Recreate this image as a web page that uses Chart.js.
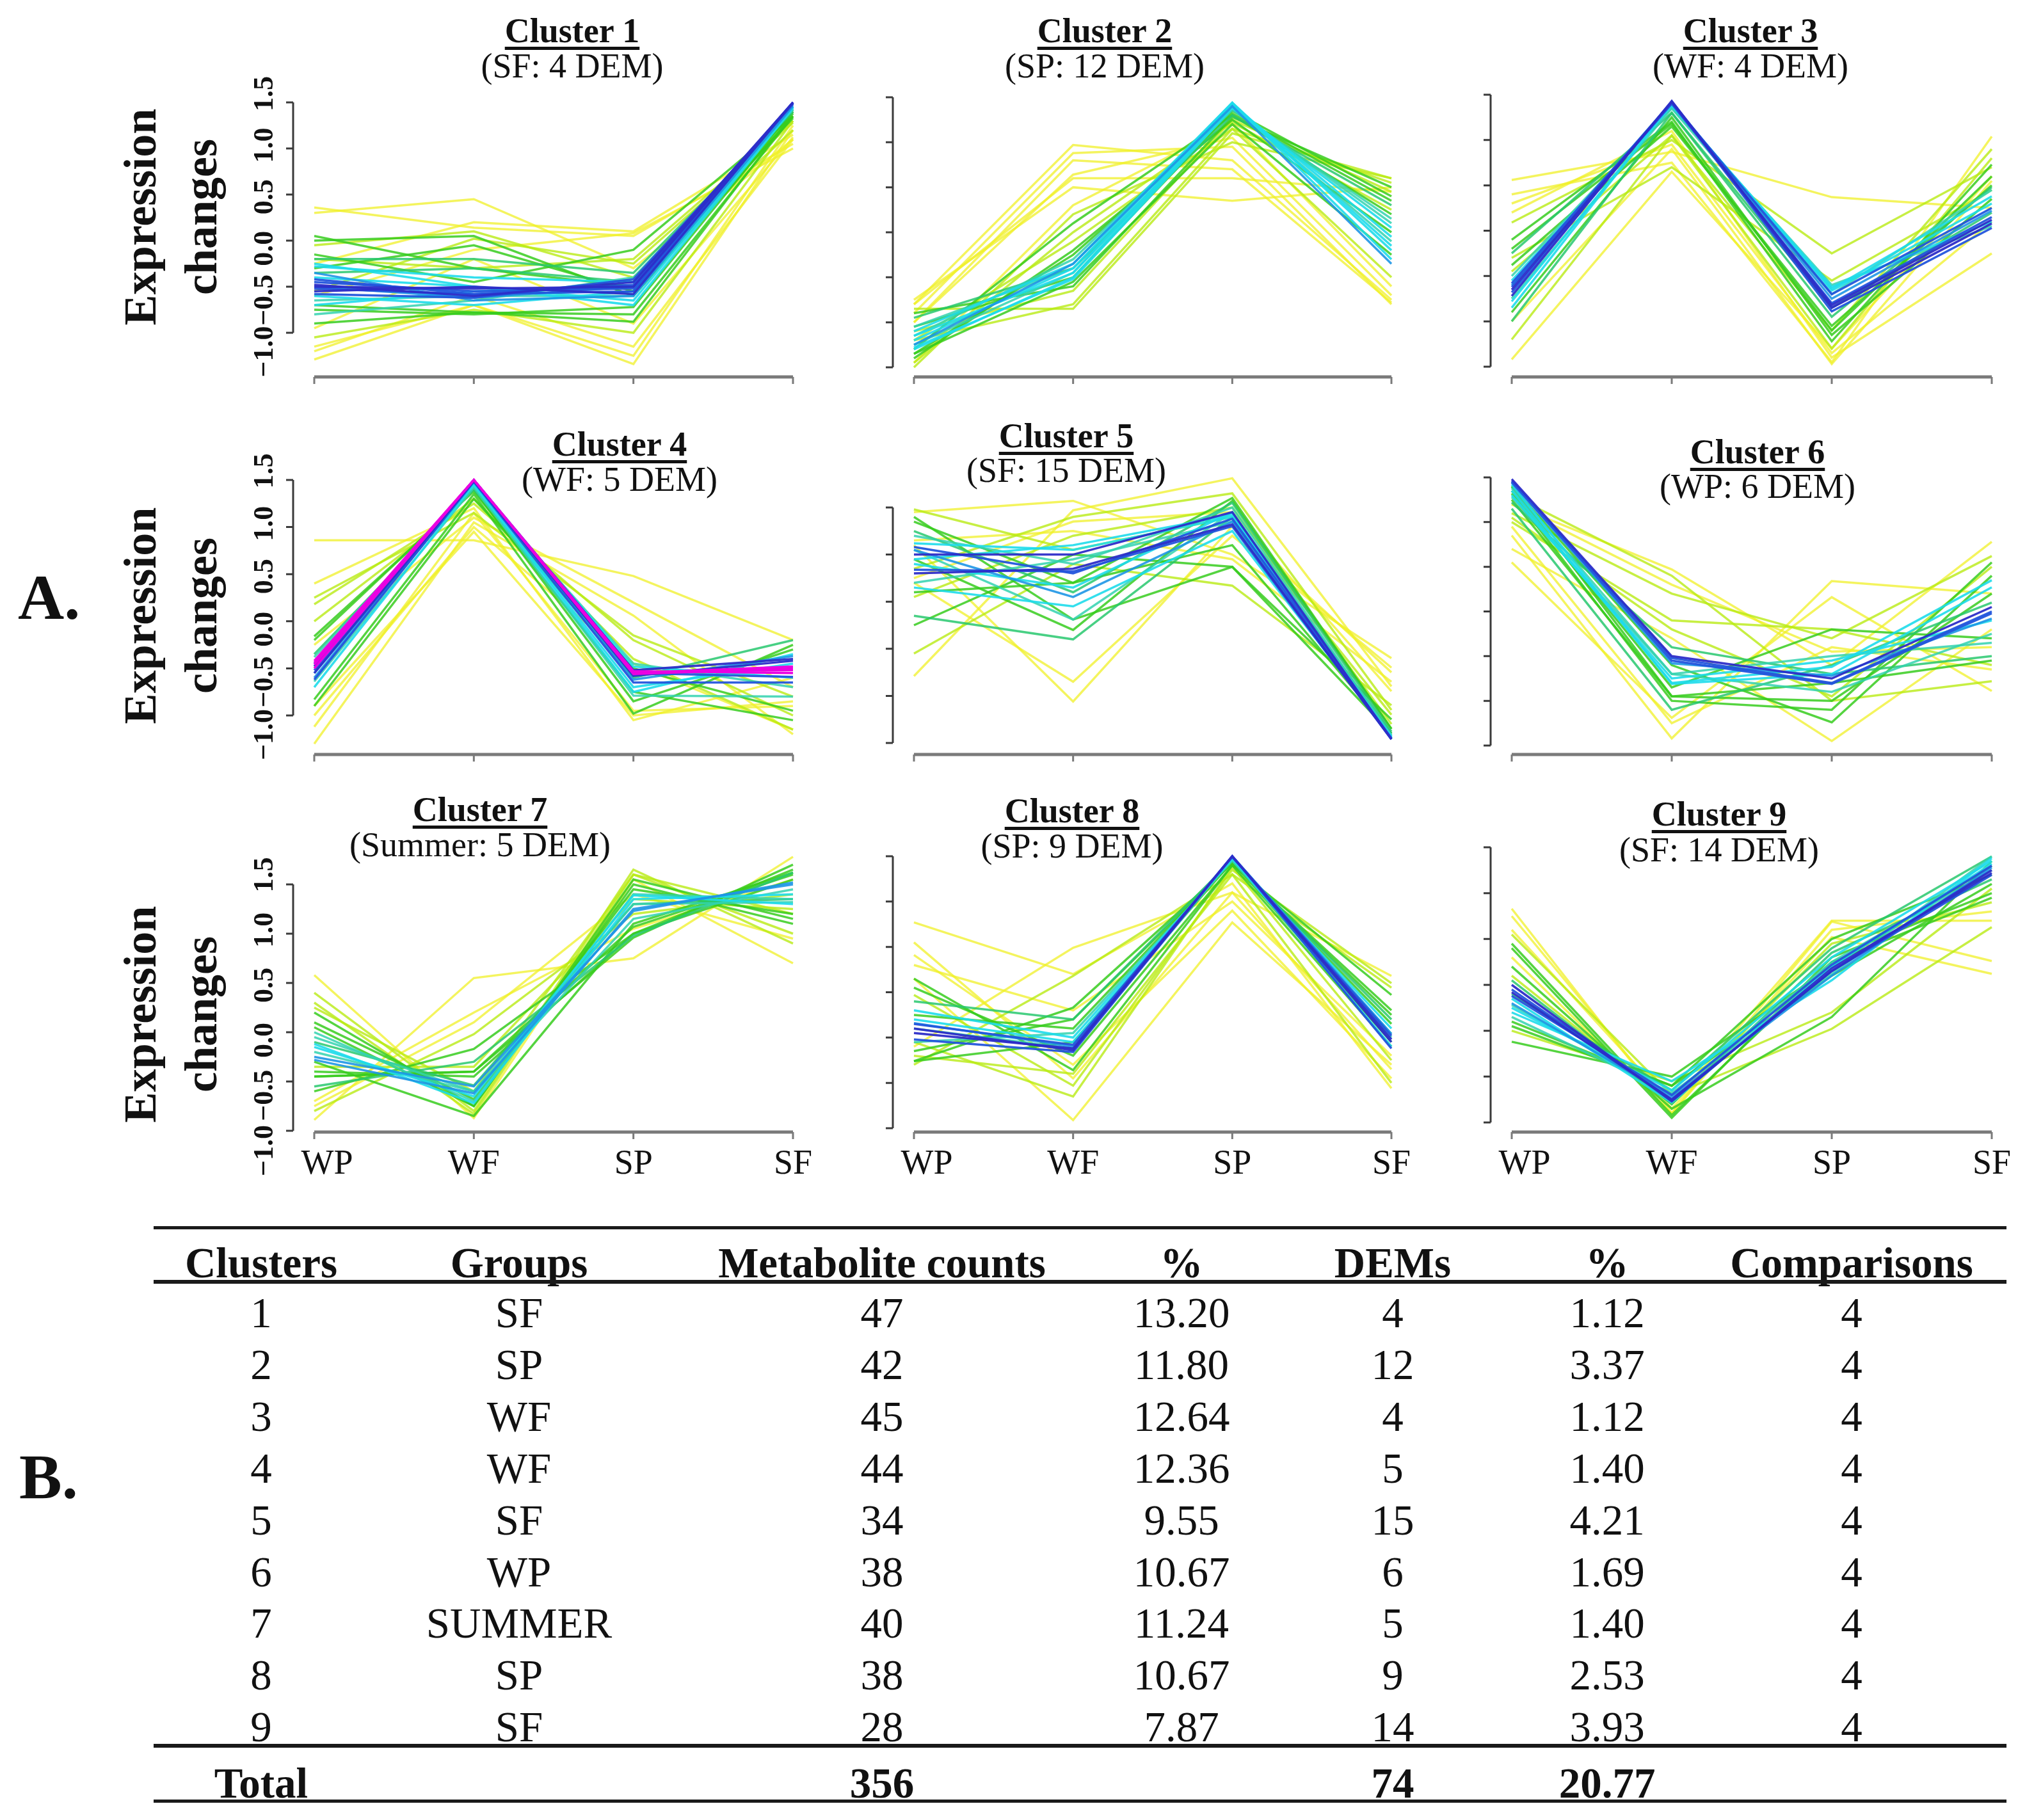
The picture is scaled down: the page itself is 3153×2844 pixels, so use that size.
<!DOCTYPE html>
<html lang="en">
<head>
    <meta charset="UTF-8">
    <title>Cluster profiles</title>
    <script src="https://cdn.jsdelivr.net/npm/chart.js"></script>
    <style>
        body { margin: 0; background: #fff; }
        #fig { position: relative; width: 3153px; height: 2844px; overflow: hidden; background: #fff;
               font-family: 'Liberation Serif', 'Times New Roman', serif; color: #111; }
        #fig canvas { position: absolute; }
        .ttl { position: absolute; width: 700px; text-align: center; font-size: 54px; line-height: 56px; white-space: nowrap; }
        .ttl.main { font-weight: bold; text-decoration: underline; text-decoration-thickness: 5px; text-underline-offset: 7px; }
        .ytitle { position: absolute; width: 600px; height: 190px; font-weight: bold; font-size: 72px;
                  line-height: 95px; text-align: center; transform: rotate(-90deg); }
        .panel-tag { position: absolute; font-weight: bold; font-size: 100px; line-height: 100px; }
        .cell { position: absolute; text-align: center; font-size: 67px; line-height: 80px; white-space: nowrap; }
        .cell.b { font-weight: bold; }
        .rule { position: absolute; left: 240px; width: 2895px; background: #1a1a1a; }
    </style>
</head>
<body>
<div id="fig"></div>
<script>
    // time points on the x axis
    const stages = ['WP', 'WF', 'SP', 'SF'];

    // panel titles
    const clusterGroups = ['SF', 'SP', 'WF', 'WF', 'SF', 'WP', 'Summer', 'SP', 'SF'];
    const clusterDEM = [4, 12, 4, 5, 15, 6, 5, 9, 14];

    // y tick range of each panel
    const tickLow = [-1.0, -1.5, -1.5, -1.0, -1.5, -1.5, -1.0, -1.5, -1.5];
    const tickHigh = [1.5, 1.5, 1.5, 1.5, 1.0, 1.5, 1.5, 1.5, 1.5];

    // profiles: expression changes at WP, WF, SP, SF; membership drives the colour
    const cluster1Profiles = [
        [0.36, 0.14, 0.05, 1.05], [0.30, 0.45, -0.30, 1.10], [-0.25, 0.20, 0.10, 1.15],
        [-1.29, -0.70, -1.34, 1.20], [-1.15, -0.70, -1.25, 1.25], [-0.05, 0.10, -0.40, 1.20],
        [-1.05, -0.75, -1.00, 1.30], [0.00, 0.05, -0.60, 1.35], [-0.20, -0.30, -0.20, 1.30],
        [-0.90, -0.78, -0.80, 1.35], [-0.30, -0.05, -0.55, 1.40], [-0.75, -0.80, -0.72, 1.40],
        [-0.15, -0.45, -0.10, 1.35], [-0.35, -0.30, -0.45, 1.42], [-0.65, -0.60, -0.60, 1.43],
        [-0.40, -0.50, -0.65, 1.45], [-0.60, -0.70, -0.55, 1.45], [-0.28, -0.40, -0.45, 1.46],
        [-0.50, -0.62, -0.50, 1.48], [-0.45, -0.55, -0.52, 1.49], [-0.52, -0.58, -0.48, 1.50],
        [-0.55, -0.50, -0.58, 1.50], [-0.48, -0.60, -0.45, 1.50], [-0.60, -0.10, 0.08, 1.00],
        [-0.95, -0.20, -0.90, 1.12], [-0.50, -0.52, -0.50, 1.50], [-0.42, -0.58, -0.55, 1.49],
        [-0.58, -0.62, -0.42, 1.48], [-0.35, -0.65, -0.60, 1.46], [-0.70, -0.55, -0.50, 1.45],
        [-0.25, -0.50, -0.70, 1.44], [-0.80, -0.65, -0.40, 1.42], [-0.20, -0.20, -0.35, 1.40],
        [-0.70, -0.78, -0.88, 1.38], [0.05, -0.30, -0.50, 1.33], [-0.55, 0.02, -0.25, 1.28],
        [-1.20, -0.60, -1.15, 1.10]
    ];
    const cluster1Membership = [0.35, 0.35, 0.35, 0.35, 0.35, 0.45, 0.45, 0.55, 0.45, 0.55, 0.55, 0.55, 0.55,
        0.6, 0.65, 0.7, 0.7, 0.7, 0.75, 0.8, 0.8, 0.85, 0.85, 0.35, 0.35,
        0.85, 0.8, 0.8, 0.75, 0.7, 0.7, 0.65, 0.6, 0.55, 0.55, 0.45, 0.35];

    const cluster2Profiles = [
        [-0.80, 0.97, 0.80, -0.75], [-0.90, 0.88, 0.95, -0.80], [-1.00, 0.64, 1.05, -0.70],
        [-0.75, 0.50, 0.35, 0.50], [-1.45, 0.30, 1.20, -0.60], [-0.85, -0.85, 1.10, 0.60],
        [-1.10, -0.65, 1.25, 0.45], [-1.20, -0.10, 1.15, 0.55], [-1.30, 0.10, 1.30, 0.20],
        [-1.05, -0.50, 1.35, 0.40], [-1.40, -0.20, 1.25, 0.00], [-0.95, -0.40, 1.30, 0.30],
        [-1.15, -0.30, 1.40, -0.10], [-1.25, -0.45, 1.38, 0.10], [-1.10, -0.35, 1.44, -0.20],
        [-1.30, -0.50, 1.42, -0.05], [-1.20, -0.40, 1.44, -0.30], [-1.50, 0.20, 1.00, 0.60],
        [-0.80, 0.60, 0.60, 0.45], [-1.35, -0.55, 1.20, -0.25], [-1.15, -0.45, 1.42, -0.15],
        [-1.25, -0.35, 1.40, -0.35], [-1.05, -0.40, 1.36, 0.15], [-1.35, -0.25, 1.32, 0.35],
        [-0.90, -0.60, 1.28, 0.50], [-1.45, 0.00, 1.22, 0.25], [-1.00, 0.80, 0.70, -0.78],
        [-1.20, -0.80, 1.15, -0.50], [-1.28, -0.52, 1.38, 0.05]
    ];
    const cluster2Membership = [0.35, 0.35, 0.35, 0.35, 0.35, 0.45, 0.45, 0.45, 0.55, 0.55, 0.55, 0.6,
        0.65, 0.65, 0.7, 0.7, 0.7, 0.45, 0.35, 0.55,
        0.7, 0.75, 0.65, 0.55, 0.55, 0.45, 0.35, 0.45, 0.7];

    const cluster3Profiles = [
        [0.56, 0.87, 0.37, 0.25], [0.40, 0.75, -1.45, 1.04], [0.20, 1.10, -1.40, -0.25],
        [-1.42, 0.65, -1.30, 0.60], [0.09, 1.00, -0.25, 0.70], [-1.20, 1.05, -1.10, 0.90],
        [-0.10, 1.20, -1.22, 0.73], [-0.38, 1.15, -1.05, 0.50], [-0.90, 1.25, -1.15, 0.35],
        [-0.25, 1.30, -0.85, 0.20], [-0.75, 1.35, -0.70, 0.45], [-0.55, 1.38, -0.62, 0.10],
        [-0.85, 1.40, -0.66, 0.30], [-0.60, 1.42, -0.75, 0.22], [-0.68, 1.42, -0.89, 0.03],
        [-0.62, 1.40, -0.80, 0.15], [-0.72, 1.43, -0.85, 0.08], [-1.00, 0.90, -1.47, 0.55],
        [-0.30, 0.70, -0.55, 0.45], [-0.65, 1.42, -0.82, 0.12], [-0.58, 1.41, -0.70, 0.25],
        [-0.78, 1.39, -0.64, 0.38], [-0.50, 1.36, -0.60, 0.05], [-1.00, 1.30, -0.95, 0.48],
        [-0.20, 1.18, -1.10, 0.60], [-0.45, 1.05, -1.30, 0.80], [0.30, 0.95, -1.35, 0.10]
    ];
    const cluster3Membership = [0.35, 0.35, 0.35, 0.35, 0.45, 0.45, 0.55, 0.55, 0.55, 0.6, 0.65, 0.7,
        0.7, 0.75, 0.8, 0.8, 0.85, 0.35, 0.45,
        0.85, 0.8, 0.7, 0.65, 0.6, 0.55, 0.45, 0.35];

    const cluster4Profiles = [
        [0.86, 0.86, 0.48, -0.20], [-1.30, 1.05, 0.06, -1.20], [-1.12, 1.15, -0.95, -0.90],
        [0.40, 1.20, -1.05, -0.60], [0.18, 1.25, -0.20, -1.00], [0.00, 1.30, -0.40, -1.15],
        [-0.83, 1.35, -0.98, -0.25], [-0.16, 1.38, -0.75, -1.05], [-0.35, 1.40, -0.60, -0.20],
        [-0.64, 1.42, -0.79, -0.80], [-0.55, 1.45, -0.70, -0.45], [-0.45, 1.46, -0.48, -0.60],
        [-0.60, 1.48, -0.62, -0.37], [-0.52, 1.50, -0.55, -0.59], [-0.48, 1.50, -0.52, -0.40],
        [-0.42, 1.50, -0.54, -0.52], [-0.46, 1.50, -0.56, -0.50], [-0.50, 1.50, -0.53, -0.55],
        [-0.25, 1.10, 0.20, -0.70], [-0.90, 0.95, -1.00, -0.85], [-0.44, 1.50, -0.55, -0.48],
        [-0.55, 1.49, -0.58, -0.42], [-0.62, 1.48, -0.65, -0.65], [-0.70, 1.45, -0.75, -0.35],
        [-0.38, 1.44, -0.45, -0.70], [-0.20, 1.40, -0.85, -0.30], [-0.90, 1.30, -0.50, -0.95],
        [0.25, 1.15, -0.15, -0.80], [-1.00, 1.00, -0.45, -1.15]
    ];
    const cluster4Membership = [0.35, 0.35, 0.35, 0.35, 0.45, 0.45, 0.55, 0.55, 0.6, 0.65, 0.7, 0.7,
        0.75, 0.8, 0.85, 0.95, 0.95, 0.95, 0.35, 0.35,
        0.95, 0.85, 0.8, 0.7, 0.65, 0.55, 0.55, 0.45, 0.35];

    const cluster5Profiles = [
        [0.95, 1.07, 0.50, -0.60], [-0.79, 0.97, 1.31, -0.90], [0.60, -1.06, 0.80, -0.75],
        [0.20, -0.85, 0.70, -0.70], [-0.55, 0.40, 0.17, -1.10], [0.98, 0.55, 0.90, -1.20],
        [0.05, 0.70, 1.00, -1.30], [0.90, -0.19, 0.37, -1.25], [0.45, -0.30, 1.07, -1.35],
        [-0.25, 0.50, 0.37, -1.40], [0.75, 0.10, 1.05, -1.38], [0.55, -0.19, 0.95, -1.42],
        [0.20, 0.45, 0.85, -1.45], [0.62, 0.55, 0.90, -1.44], [0.40, 0.15, 0.95, -1.46],
        [0.34, 0.32, 0.80, -1.46], [0.55, 0.05, 0.85, -1.45], [0.30, 0.35, 0.82, -1.46],
        [0.10, 0.20, 0.60, -1.40], [0.25, 0.85, 0.95, -0.95], [0.50, 0.50, 0.95, -1.46],
        [0.58, 0.30, 0.88, -1.45], [0.45, 0.60, 0.92, -1.44], [0.70, 0.40, 1.00, -1.42],
        [0.15, -0.05, 0.75, -1.43], [0.85, 0.20, 1.10, -1.35], [-0.15, -0.40, 0.90, -1.40],
        [0.35, 0.90, 1.15, -1.15], [0.65, 0.75, 0.45, -0.85]
    ];
    const cluster5Membership = [0.35, 0.35, 0.35, 0.35, 0.45, 0.45, 0.45, 0.55, 0.55, 0.55, 0.6, 0.65,
        0.65, 0.7, 0.7, 0.8, 0.75, 0.85, 0.55, 0.35,
        0.85, 0.8, 0.7, 0.65, 0.7, 0.55, 0.6, 0.45, 0.35];

    const cluster6Profiles = [
        [1.20, 0.47, -0.60, 0.78], [0.85, -1.42, 0.34, 0.20], [0.55, -1.19, 0.16, -0.89],
        [0.70, -0.30, -1.45, -0.20], [1.30, 0.40, -1.00, -0.78], [1.10, 0.20, -0.30, 0.62],
        [1.25, -0.95, -0.80, -0.55], [1.40, -0.60, -1.24, 0.40], [1.35, -0.85, -0.20, -0.30],
        [1.15, -1.10, -0.60, 0.10], [1.38, -0.70, -0.90, -0.25], [1.42, -0.81, -0.70, 0.27],
        [1.30, -0.75, -0.55, -0.10], [1.45, -0.55, -0.81, -0.02], [1.48, -0.50, -0.75, 0.05],
        [1.00, -0.10, -0.20, -0.60], [1.20, 0.30, -0.45, -0.40], [1.32, -1.00, -1.10, 0.55],
        [1.46, -0.52, -0.80, 0.00], [1.44, -0.58, -0.72, -0.08], [1.35, -0.80, -0.62, 0.35],
        [1.28, -0.70, -0.50, -0.35], [1.40, -0.95, -1.00, 0.20], [1.22, -0.40, -0.70, -0.50],
        [1.05, -0.20, -0.95, 0.50], [0.95, -1.25, -0.40, -0.65]
    ];
    const cluster6Membership = [0.35, 0.35, 0.35, 0.35, 0.45, 0.45, 0.55, 0.55, 0.55, 0.6, 0.65, 0.7,
        0.7, 0.8, 0.85, 0.45, 0.35, 0.55,
        0.8, 0.75, 0.7, 0.65, 0.55, 0.6, 0.45, 0.35];

    const cluster7Profiles = [
        [0.58, -0.87, 1.55, 0.70], [-0.89, 0.55, 0.75, 1.78], [0.40, -0.80, 1.65, 0.90],
        [-0.70, 0.20, 1.05, 1.55], [0.30, -0.83, 1.60, 1.00], [-0.80, -0.02, 1.20, 1.40],
        [0.20, -0.75, 1.50, 1.10], [-0.60, -0.17, 1.00, 1.65], [0.10, -0.68, 1.45, 1.20],
        [-0.45, -0.40, 0.96, 1.70], [-0.45, -0.40, 1.07, 1.60], [-0.10, -0.54, 1.30, 1.35],
        [-0.20, -0.60, 1.15, 1.45], [-0.15, -0.65, 1.39, 1.30], [-0.25, -0.55, 1.23, 1.52],
        [0.00, -0.70, 1.40, 1.35], [-0.30, -0.85, 1.10, 1.62], [-0.35, -0.35, 1.35, 1.25],
        [-0.28, -0.62, 1.25, 1.50], [-0.12, -0.72, 1.35, 1.40], [-0.05, -0.60, 1.30, 1.32],
        [-0.40, -0.45, 1.00, 1.55], [0.05, -0.75, 1.55, 1.15], [-0.55, -0.30, 0.98, 1.62],
        [0.25, -0.60, 1.60, 1.20], [-0.75, 0.10, 1.40, 0.95]
    ];
    const cluster7Membership = [0.35, 0.35, 0.45, 0.35, 0.45, 0.45, 0.55, 0.55, 0.55, 0.55, 0.55, 0.6,
        0.65, 0.7, 0.75, 0.65, 0.55, 0.45,
        0.75, 0.7, 0.65, 0.55, 0.55, 0.6, 0.45, 0.35];

    const cluster8Profiles = [
        [0.77, 0.20, 1.20, -1.06], [0.41, -0.80, 0.90, -0.95], [-0.60, 0.49, 1.10, 0.18],
        [0.15, -1.41, 0.77, -0.80], [-0.80, 0.18, 1.30, -1.00], [-0.03, -1.03, 1.35, 0.10],
        [0.15, -0.86, 1.40, -0.03], [-0.76, -0.17, 1.42, -0.20], [-0.25, -0.40, 1.45, -0.35],
        [-0.76, -0.55, 1.44, -0.55], [-0.10, -0.30, 1.46, -0.30], [-0.40, -0.62, 1.47, -0.46],
        [-0.30, -0.55, 1.48, -0.60], [-0.34, -0.60, 1.50, -0.46], [-0.52, -0.66, 1.50, -0.62],
        [-0.45, -0.62, 1.50, -0.52], [0.30, -0.20, 1.00, -0.70], [-0.55, -1.15, 1.38, -0.75],
        [-0.40, -0.64, 1.50, -0.55], [-0.35, -0.58, 1.49, -0.48], [-0.20, -0.50, 1.47, -0.40],
        [-0.55, -0.45, 1.45, -0.50], [-0.65, -0.30, 1.43, -0.25], [0.05, -0.70, 1.40, -0.60],
        [-0.70, -0.90, 1.30, 0.05], [0.55, -0.95, 1.10, -0.85]
    ];
    const cluster8Membership = [0.35, 0.35, 0.35, 0.35, 0.45, 0.45, 0.55, 0.55, 0.55, 0.55, 0.6, 0.65,
        0.7, 0.75, 0.8, 0.85, 0.35, 0.45,
        0.85, 0.8, 0.7, 0.65, 0.55, 0.55, 0.45, 0.35];

    const cluster9Profiles = [
        [0.83, -1.40, 0.69, 0.26], [0.75, -1.35, 0.52, 0.12], [0.55, -1.20, -0.48, 0.63],
        [0.40, -1.45, 0.30, 1.00], [0.10, -1.30, 0.45, 0.90], [-0.62, -1.00, 0.20, 1.30],
        [-0.40, -1.10, 0.10, 1.10], [0.20, -1.35, -0.35, 1.35], [-0.10, -1.15, 0.40, 1.40],
        [-0.22, -1.20, 0.25, 1.25], [-0.30, -1.05, 0.05, 1.38], [-0.15, -1.28, 0.20, 1.32],
        [-0.05, -1.25, 0.15, 1.20], [-0.20, -1.22, 0.10, 1.28], [0.00, -1.27, 0.18, 1.22],
        [0.30, -1.40, 0.60, 0.80], [-0.50, -1.05, -0.30, 1.05], [-0.08, -1.25, 0.15, 1.25],
        [-0.12, -1.20, 0.22, 1.30], [-0.25, -1.15, 0.30, 1.35], [-0.35, -1.18, 0.12, 1.40],
        [0.05, -1.30, 0.35, 1.15], [-0.45, -1.10, 0.50, 1.20], [0.45, -1.42, 0.25, 0.95],
        [0.60, -1.30, 0.70, 0.70]
    ];
    const cluster9Membership = [0.35, 0.35, 0.45, 0.55, 0.45, 0.55, 0.55, 0.55, 0.6, 0.65, 0.7, 0.7,
        0.8, 0.75, 0.85, 0.35, 0.45,
        0.85, 0.8, 0.7, 0.65, 0.6, 0.55, 0.55, 0.35];

    const allProfiles = [cluster1Profiles, cluster2Profiles, cluster3Profiles, cluster4Profiles,
        cluster5Profiles, cluster6Profiles, cluster7Profiles, cluster8Profiles, cluster9Profiles];
    const allMembership = [cluster1Membership, cluster2Membership, cluster3Membership, cluster4Membership,
        cluster5Membership, cluster6Membership, cluster7Membership, cluster8Membership, cluster9Membership];

    // table B
    const tableHeaders = ['Clusters', 'Groups', 'Metabolite counts', '%', 'DEMs', '%', 'Comparisons'];
    const tableClusters = ['1', '2', '3', '4', '5', '6', '7', '8', '9'];
    const tableGroups = ['SF', 'SP', 'WF', 'WF', 'SF', 'WP', 'SUMMER', 'SP', 'SF'];
    const metaboliteCounts = ['47', '42', '45', '44', '34', '38', '40', '38', '28'];
    const metabolitePct = ['13.20', '11.80', '12.64', '12.36', '9.55', '10.67', '11.24', '10.67', '7.87'];
    const demCounts = ['4', '12', '4', '5', '15', '6', '5', '9', '14'];
    const demPct = ['1.12', '3.37', '1.12', '1.40', '4.21', '1.69', '1.40', '2.53', '3.93'];
    const comparisons = ['4', '4', '4', '4', '4', '4', '4', '4', '4'];
    const totalRow = ['Total', '', '356', '', '74', '20.77', ''];

    // ---- layout (pixels) ----
    const colX = [{ wp: 491, sf: 1239 }, { wp: 1428, sf: 2174 }, { wp: 2362, sf: 3112 }];
    const panelRows = [
        [{ top: 160, bottom: 520, axis: 589 }, { top: 152, bottom: 574, axis: 589 }, { top: 148, bottom: 573, axis: 589 }],
        [{ top: 750, bottom: 1118, axis: 1179 }, { top: 793, bottom: 1161, axis: 1179 }, { top: 746, bottom: 1165, axis: 1179 }],
        [{ top: 1382, bottom: 1767, axis: 1769 }, { top: 1338, bottom: 1763, axis: 1769 }, { top: 1324, bottom: 1754, axis: 1769 }]
    ];
    const titlePos = [[894, 48, 103], [1726, 48, 103], [2735, 48, 103],
                      [968, 694, 749], [1666, 681, 735], [2746, 706, 760],
                      [750, 1265, 1320], [1675, 1267, 1322], [2686, 1272, 1328]];
    const yTitleCenters = [339, 962, 1585];
    const colTableX = [408, 811, 1378, 1846, 2176, 2511, 2893];

    function memberColour(m) {
        if (m >= 0.9) return 'rgba(235, 0, 225, 1)';
        if (m >= 0.85) return 'rgba(45, 45, 200, 0.95)';
        if (m >= 0.8) return 'rgba(35, 85, 220, 0.95)';
        if (m >= 0.75) return 'rgba(30, 150, 230, 0.9)';
        if (m >= 0.7) return 'rgba(30, 220, 235, 0.9)';
        if (m >= 0.65) return 'rgba(50, 210, 175, 0.85)';
        if (m >= 0.6) return 'rgba(40, 200, 110, 0.85)';
        if (m >= 0.55) return 'rgba(55, 205, 30, 0.85)';
        if (m >= 0.45) return 'rgba(185, 235, 20, 0.8)';
        return 'rgba(240, 240, 40, 0.75)';
    }

    function fmtTick(v) {
        return (v < 0 ? '\u2212' : '') + Math.abs(v).toFixed(1);
    }

    // R-style detached axes, drawn from the chart's scales
    const rAxes = {
        id: 'rAxes',
        afterDraw(chart, args, opts) {
            const ctx = chart.ctx;
            const xs = chart.scales.x, ys = chart.scales.y;
            const axisX = xs.getPixelForValue(0) - 33;
            const ticks = [];
            for (let v = opts.low; v <= opts.high + 1e-9; v += 0.5) ticks.push(Math.round(v * 10) / 10);

            ctx.save();
            ctx.strokeStyle = '#3a3a3a';
            ctx.lineWidth = 3;
            ctx.beginPath();
            ctx.moveTo(axisX, ys.getPixelForValue(opts.low));
            ctx.lineTo(axisX, ys.getPixelForValue(opts.high));
            ticks.forEach(v => {
                const py = ys.getPixelForValue(v);
                ctx.moveTo(axisX, py);
                ctx.lineTo(axisX - 11, py);
            });
            ctx.stroke();

            if (opts.yLabels) {
                // the labels run a little wider than the ticks, as in the source figure
                const mid = (ys.getPixelForValue(opts.low) + ys.getPixelForValue(opts.high)) / 2;
                ctx.fillStyle = '#111';
                ctx.font = "bold 44px 'Liberation Serif'";
                ctx.textAlign = 'center';
                ctx.textBaseline = 'middle';
                ticks.forEach(v => {
                    const py = ys.getPixelForValue(v);
                    ctx.save();
                    ctx.translate(axisX - 43, mid + (py - mid) * 1.12 + 8);
                    ctx.rotate(-Math.PI / 2);
                    ctx.fillText(fmtTick(v), 0, 0);
                    ctx.restore();
                });
            }

            // x axis sits below the data region
            const ay = chart.chartArea.bottom + opts.axisGap;
            ctx.strokeStyle = '#7a7a7a';
            ctx.lineWidth = 5;
            ctx.beginPath();
            ctx.moveTo(xs.getPixelForValue(0), ay);
            ctx.lineTo(xs.getPixelForValue(stages.length - 1), ay);
            ctx.stroke();
            ctx.lineWidth = 3;
            ctx.beginPath();
            stages.forEach((s, i) => {
                const px = xs.getPixelForValue(i);
                ctx.moveTo(px, ay);
                ctx.lineTo(px, ay + 11);
            });
            ctx.stroke();

            if (opts.xLabels) {
                ctx.fillStyle = '#111';
                ctx.font = "54px 'Liberation Serif'";
                ctx.textAlign = 'center';
                ctx.textBaseline = 'middle';
                stages.forEach((s, i) => {
                    const nudge = i === 0 ? 20 : 0;
                    ctx.fillText(s, xs.getPixelForValue(i) + nudge, ay + 51);
                });
            }
            ctx.restore();
        }
    };

    const fig = document.getElementById('fig');

    function addDiv(cls, text, style) {
        const d = document.createElement('div');
        d.className = cls;
        d.textContent = text;
        Object.assign(d.style, style);
        fig.appendChild(d);
        return d;
    }

    function makePanel(idx) {
        const row = Math.floor(idx / 3), col = idx % 3;
        const g = panelRows[row][col], c = colX[col];
        const left = c.wp - 123, right = c.sf + 40;
        const top = g.top - 90, bottom = g.axis + 90;

        const canvas = document.createElement('canvas');
        canvas.width = right - left;
        canvas.height = bottom - top;
        canvas.style.left = left + 'px';
        canvas.style.top = top + 'px';
        fig.appendChild(canvas);

        const profiles = allProfiles[idx];
        const members = allMembership[idx];
        // Chart.js paints dataset 0 last, so put the strongest members first
        const order = profiles.map((p, i) => i).sort((a, b) => members[b] - members[a]);
        const datasets = order.map(i => ({
            data: profiles[i],
            borderColor: memberColour(members[i]),
            borderWidth: 3.5,
            pointRadius: 0,
            tension: 0,
            fill: false,
            clip: false
        }));

        new Chart(canvas, {
            type: 'line',
            data: { labels: stages, datasets: datasets },
            options: {
                responsive: false,
                animation: false,
                devicePixelRatio: 1,
                layout: { padding: { left: 123, right: 40, top: 90, bottom: bottom - g.bottom } },
                scales: {
                    x: { display: false, offset: false },
                    y: { display: false, min: tickLow[idx], max: tickHigh[idx] }
                },
                plugins: {
                    legend: { display: false },
                    tooltip: { enabled: false },
                    rAxes: {
                        low: tickLow[idx], high: tickHigh[idx],
                        axisGap: g.axis - g.bottom,
                        yLabels: col === 0,
                        xLabels: row === 2
                    }
                }
            },
            plugins: [rAxes]
        });

        const t = titlePos[idx];
        addDiv('ttl main', 'Cluster ' + (idx + 1), { left: (t[0] - 350) + 'px', top: (t[1] - 28) + 'px' });
        addDiv('ttl', '(' + clusterGroups[idx] + ': ' + clusterDEM[idx] + ' DEM)',
            { left: (t[0] - 350) + 'px', top: (t[2] - 28) + 'px' });
    }

    for (let i = 0; i < 9; i++) makePanel(i);

    yTitleCenters.forEach(yc => {
        const d = document.createElement('div');
        d.className = 'ytitle';
        d.innerHTML = 'Expression<br>changes';
        d.style.left = (267 - 300) + 'px';
        d.style.top = (yc - 95) + 'px';
        fig.appendChild(d);
    });

    addDiv('panel-tag', 'A.', { left: '28px', top: '884px' });
    addDiv('panel-tag', 'B.', { left: '30px', top: '2258px' });

    // table B
    function rule(y, h) {
        const d = document.createElement('div');
        d.className = 'rule';
        d.style.top = (y - h / 2) + 'px';
        d.style.height = h + 'px';
        fig.appendChild(d);
    }
    function rowCells(values, yc, bold) {
        values.forEach((v, i) => {
            if (v === '') return;
            addDiv('cell' + (bold ? ' b' : ''), v,
                { left: (colTableX[i] - 350) + 'px', width: '700px', top: (yc - 40) + 'px' });
        });
    }
    rule(1918, 5);
    rowCells(tableHeaders, 1973, true);
    rule(2003, 6);
    tableClusters.forEach((c, i) => {
        rowCells([c, tableGroups[i], metaboliteCounts[i], metabolitePct[i], demCounts[i], demPct[i], comparisons[i]],
            2051 + i * 80.9, false);
    });
    rule(2728, 6);
    rowCells(totalRow, 2786, true);
    rule(2814, 5);
</script>
</body>
</html>
